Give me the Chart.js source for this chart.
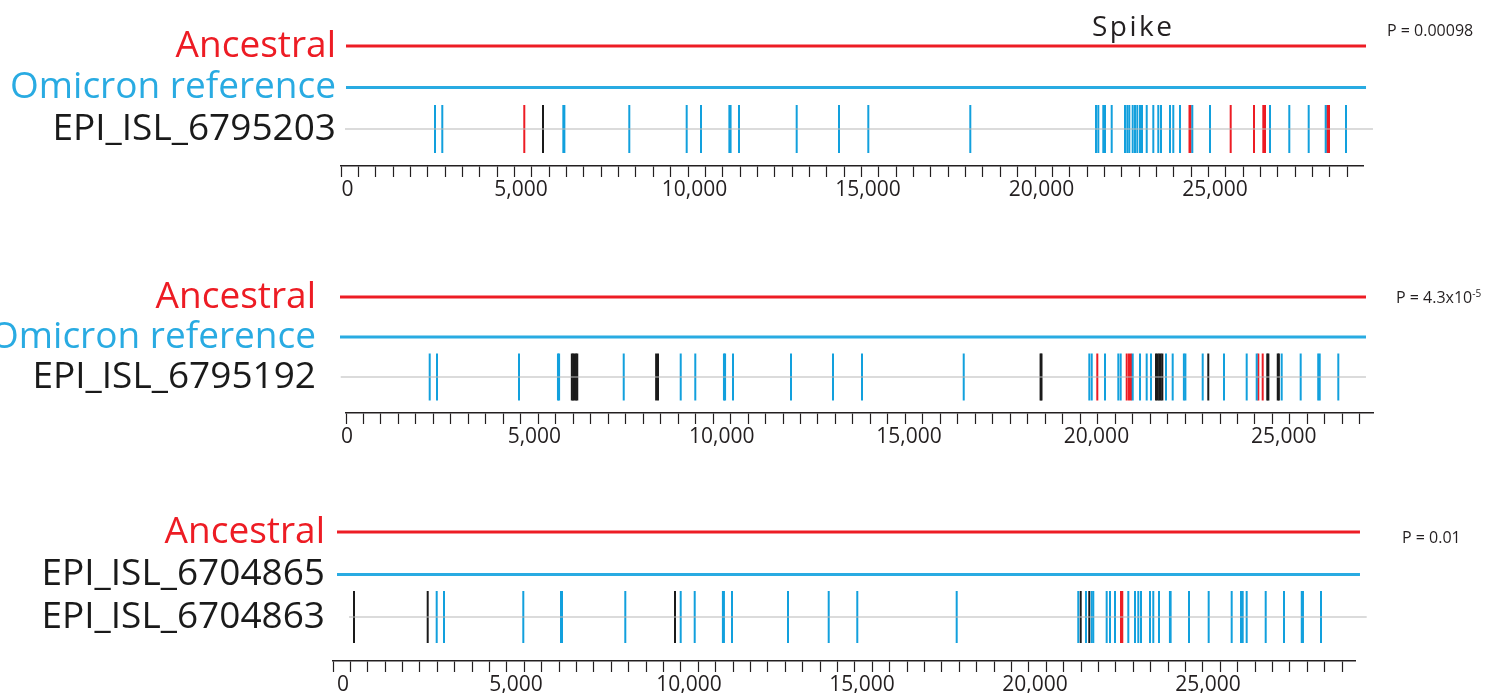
<!DOCTYPE html>
<html>
<head>
<meta charset="utf-8">
<script src="https://cdn.jsdelivr.net/npm/chart.js@4.4.1/dist/chart.umd.min.js"></script>
<style>
  html, body { margin: 0; padding: 0; background: #fff; overflow: hidden; width: 1491px; height: 693px; position: relative; font-family: 'Open Sans', sans-serif; }
  .panel { position: absolute; left: 0; width: 1491px; }
  .note { position: absolute; white-space: nowrap; color: #231f20; line-height: normal; }
  .note sup { font-size: 10px; }
</style>
</head>
<body>
<div class="panel" style="top:0;height:212px"><canvas id="c1"></canvas></div>
<div class="panel" style="top:250px;height:209px"><canvas id="c2"></canvas></div>
<div class="panel" style="top:490px;height:217px"><canvas id="c3"></canvas></div>

<div class="note" style="left:1092px;top:6px;font-size:28px;letter-spacing:2.5px">Spike</div>
<div class="note" style="left:1387px;top:19px;font-size:16px">P = 0.00098</div>
<div class="note" style="left:1396px;top:286px;font-size:16px">P = 4.3x10<sup>-5</sup></div>
<div class="note" style="left:1402px;top:526px;font-size:16px">P = 0.01</div>

<script>
// genome axis ticks
var tickValues = [0, 5000, 10000, 15000, 20000, 25000];
var tickLabels = ['0', '5,000', '10,000', '15,000', '20,000', '25,000'];
var minorStep = 500;

// panel 1 : EPI_ISL_6795203
var p1Rows = ['Ancestral', 'Omicron reference', 'EPI_ISL_6795203'];
var p1Span = [-43, 29352];
var p1BaseSpan = [-72, 29553];
var p1Blue = [2522, 2732, 6220, 6250, 8121, 9775, 10187, 11005, 11040, 11282, 12945, 14164, 15009, 17948,
  21571, 21637, 21781, 21830, 22023, 22406, 22473, 22530, 22628, 22695, 22761, 22839, 22896, 23032,
  23222, 23366, 23444, 23703, 23798, 23991, 24346, 24856, 26585, 27141, 27700, 28190, 28775];
var p1Red = [5095, 24265, 24295, 25452, 26124, 26392, 26441, 28236, 28285];
var p1Black = [5634];

// panel 2 : EPI_ISL_6795192
var p2Rows = ['Ancestral', 'Omicron reference', 'EPI_ISL_6795192'];
var p2Span = [-187, 27195];
var p2BaseSpan = [-168, 27195];
var p2Blue = [2207, 2402, 4590, 5630, 5660, 7385, 8906, 9295, 10060, 10090, 10302, 11849, 12970, 13744, 16459,
  19811, 19875, 20230, 20585, 20648, 20969, 21164, 21342, 21457, 21857, 22036, 22335, 22375, 22837,
  23405, 24011, 24278, 24945, 25452, 25920, 25960, 26456];
var p2Red = [20024, 20809, 20870, 20923, 24321, 24438];
var p2Black = [6000, 6035, 6070, 6110, 6145, 8250, 8300, 18510, 18535, 21590, 21632, 21675, 21717, 21760,
  22986, 24560, 24590, 24840, 24870];

// panel 3 : EPI_ISL_6704865 / EPI_ISL_6704863
var p3Rows = ['Ancestral', 'EPI_ISL_6704865', 'EPI_ISL_6704863'];
var p3Span = [-173, 29393];
var p3BaseSpan = [173, 29587];
var p3Blue = [2708, 2919, 5211, 6300, 6330, 8159, 9760, 10165, 10980, 11010, 11243, 12861, 14038, 14864, 17737,
  21251, 21474, 21639, 21685, 22072, 22168, 22312, 22697, 22890, 22986, 23064, 23324, 23419, 23584,
  23900, 23920, 24451, 25020, 25685, 25954, 26003, 26118, 26668, 27197, 27710, 27745, 28266];
var p3Red = [22486, 22523];
var p3Black = [318, 2448, 9595, 21321, 21569];

var RED = '#ED1C24';
var LINE_BLUE = '#29ABE2';
var MARK_BLUE = '#12A0DD';
var BLACK = '#1A1A1A';
var GRAY = '#B8B8B8';
var FONT = "'Open Sans', sans-serif";

function marks(vals, color, half) {
  return {
    xAxisID: 'x', yAxisID: 'y',
    data: vals.map(function (v) { return { x: v, y: 0 }; }),
    showLine: false,
    pointStyle: 'line',
    pointRotation: 90,
    pointRadius: half,
    pointHoverRadius: half,
    pointBorderWidth: 2,
    pointBorderColor: color,
    clip: false
  };
}

function track(span, row, color, width) {
  return {
    xAxisID: 'x', yAxisID: 'y',
    data: span.map(function (v) { return { x: v, y: row }; }),
    showLine: true,
    borderColor: color,
    borderWidth: width,
    pointRadius: 0,
    clip: false
  };
}

// put the ticks exactly where wanted and keep the asked range
function setTicks(values, min, max) {
  return function (s) {
    s.ticks = values.map(function (v) { return { value: v }; });
    s.min = min;
    s.max = max;
  };
}

function minorTicks(max) {
  var out = [];
  for (var v = 0; v <= max; v += minorStep) out.push(v);
  return out;
}

function makePanel(id, rows, rowColors, span, baseSpan, blue, red, black, o) {
  new Chart(document.getElementById(id), {
    type: 'scatter',
    data: {
      datasets: [
        track(span, 2, RED, 3),
        track(span, 1, LINE_BLUE, 3),
        track(baseSpan, 0, GRAY, 1.2),
        marks(blue, MARK_BLUE, o.half),
        marks(red, RED, o.half),
        marks(black, BLACK, o.half)
      ]
    },
    options: {
      responsive: true,
      maintainAspectRatio: false,
      animation: false,
      events: [],
      layout: { autoPadding: false, padding: { top: 20, left: 0, right: 1491 - o.right, bottom: 0 } },
      plugins: { legend: { display: false }, tooltip: { enabled: false } },
      scales: {
        x: {
          type: 'linear', position: 'bottom', weight: 1,
          min: o.xMin, max: o.xMax,
          grid: { display: false, drawTicks: false },
          border: { display: false },
          ticks: {
            autoSkip: false, maxRotation: 0, padding: 0,
            color: '#231F20', font: { family: FONT, size: 21 },
            callback: function (v) { return tickLabels[tickValues.indexOf(v)]; }
          },
          afterBuildTicks: setTicks(tickValues, o.xMin, o.xMax),
          afterFit: function (s) { s.height = 35; s.paddingLeft = 0; s.paddingRight = 0; }
        },
        xt: {
          type: 'linear', position: 'bottom', weight: 0,
          min: 0, max: o.tickMax,
          grid: { display: true, drawOnChartArea: false, drawTicks: true, tickLength: 11, tickColor: '#231F20', tickWidth: 1.2 },
          border: { display: true, color: '#231F20', width: 1.5 },
          ticks: { display: false, autoSkip: false },
          afterBuildTicks: setTicks(minorTicks(o.tickMax), 0, o.tickMax),
          afterFit: function (s) { s.height = 11; s.paddingLeft = 0; s.paddingRight = 0; }
        },
        y: {
          type: 'linear', position: 'left',
          min: o.yMin, max: o.yMax,
          grid: { display: false, drawTicks: false },
          border: { display: false },
          ticks: {
            autoSkip: false, padding: o.pad,
            font: { family: FONT, size: 37 },
            color: function (c) { return rowColors[2 - Math.round(c.tick.value)]; },
            callback: function (v) { return rows[2 - Math.round(v)]; }
          },
          afterBuildTicks: setTicks([0, 1, 2], o.yMin, o.yMax),
          afterFit: function (s) { s.width = o.left; s.paddingTop = 0; s.paddingBottom = 0; }
        }
      }
    }
  });
}

makePanel('c1', p1Rows, [RED, LINE_BLUE, BLACK], p1Span, p1BaseSpan, p1Blue, p1Red, p1Black,
  { left: 341, right: 1363, yMin: -0.8916, yMax: 2.6265, xMin: -187, xMax: 29265, tickMax: 29452, pad: 5, half: 24 });
makePanel('c2', p2Rows, [RED, LINE_BLUE, BLACK], p2Span, p2BaseSpan, p2Blue, p2Red, p2Black,
  { left: 346, right: 1373, yMin: -0.9, yMax: 2.675, xMin: -27, xMax: 27382, tickMax: 29376, pad: 30, half: 23.5 });
makePanel('c3', p3Rows, [RED, BLACK, BLACK], p3Span, p3BaseSpan, p3Blue, p3Red, p3Black,
  { left: 333, right: 1355, yMin: -1.0353, yMax: 2.5176, xMin: -289, xMax: 29249, tickMax: 29368, pad: 8, half: 26 });
</script>
</body>
</html>
